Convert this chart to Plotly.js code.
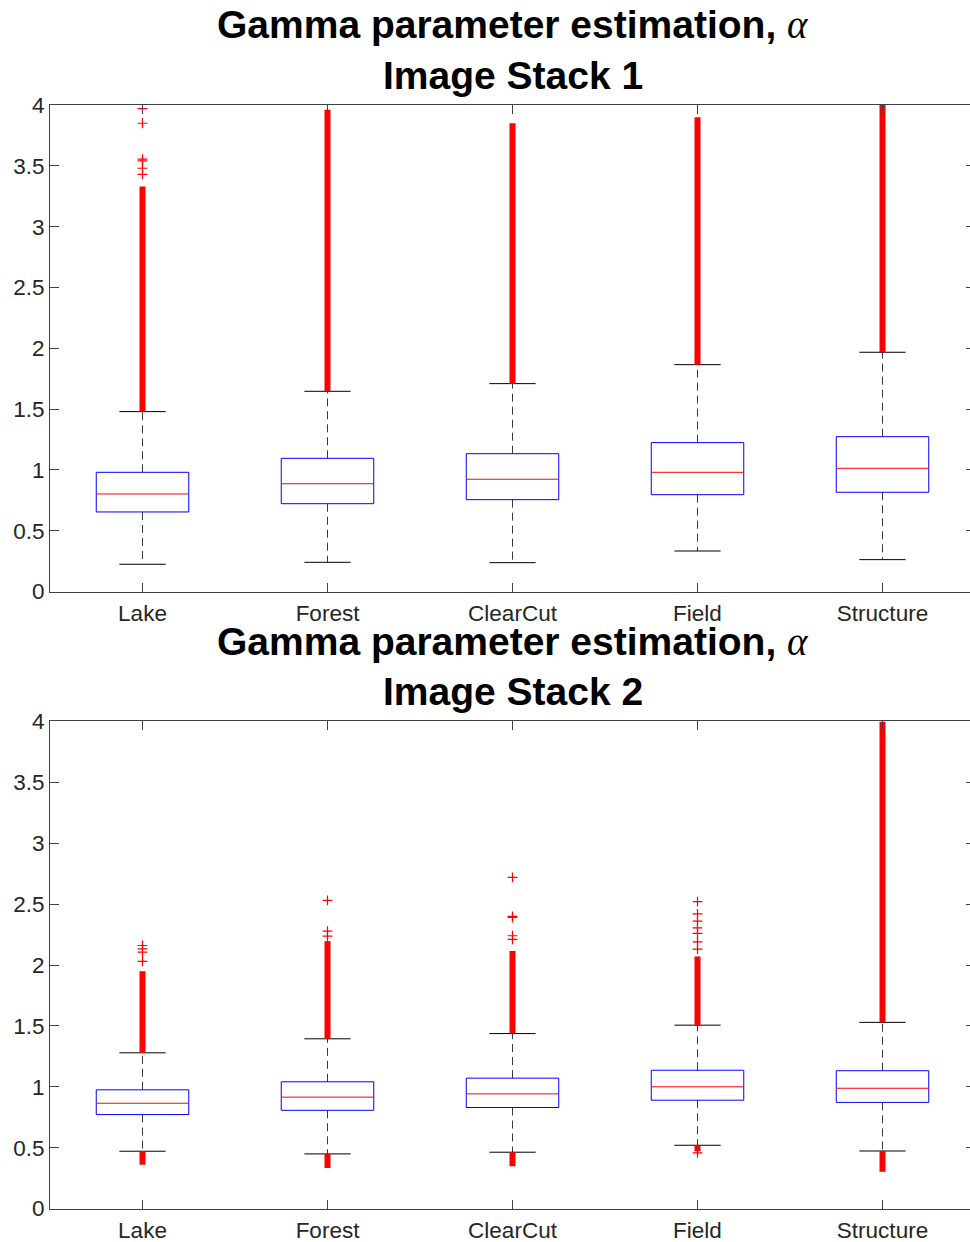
<!DOCTYPE html>
<html>
<head>
<meta charset="utf-8">
<script src="https://cdn.plot.ly/plotly-3.0.1.min.js"></script>
<style>
  html, body { margin: 0; padding: 0; overflow: hidden; background: #fff; }
  #chart { width: 975px; height: 1242px; }
</style>
</head>
<body>
<div id="chart"></div>
<script>
// Land-cover classes on the x axis
const categories = ['Lake', 'Forest', 'ClearCut', 'Field', 'Structure'];

// Image Stack 1: box statistics of the estimated shape parameter alpha
const stack1Q1     = [0.654, 0.722, 0.755, 0.796, 0.816];
const stack1Median = [0.802, 0.886, 0.923, 0.980, 1.013];
const stack1Q3     = [0.980, 1.095, 1.133, 1.224, 1.273];
const stack1Lower  = [0.224, 0.240, 0.237, 0.333, 0.262];
const stack1Upper  = [1.479, 1.646, 1.709, 1.865, 1.967];
// extent of the densely packed outliers above / below the whiskers (null = none)
const stack1DenseHigh = [3.33, 3.96, 3.85, 3.90, 4.00];
const stack1DenseLow  = [null, null, null, null, null];
// isolated outliers, one list per class
const stack1Sparse = [
  [3.43, 3.48, 3.54, 3.555, 3.85, 3.97],
  [],
  [],
  [],
  []
];

// Image Stack 2
const stack2Q1     = [0.772, 0.807, 0.830, 0.890, 0.872];
const stack2Median = [0.865, 0.915, 0.942, 1.000, 0.988];
const stack2Q3     = [0.975, 1.041, 1.071, 1.136, 1.132];
const stack2Lower  = [0.471, 0.449, 0.463, 0.520, 0.473];
const stack2Upper  = [1.279, 1.394, 1.437, 1.506, 1.529];
const stack2DenseHigh = [1.949, 2.196, 2.115, 2.070, 4.00];
const stack2DenseLow  = [0.361, 0.334, 0.348, 0.470, 0.303];
const stack2Sparse = [
  [2.03, 2.105, 2.133, 2.16],
  [2.237, 2.278, 2.53],
  [2.21, 2.24, 2.39, 2.40, 2.72],
  [2.13, 2.19, 2.26, 2.305, 2.36, 2.42, 2.52, 0.457],
  []
];

const BOX_HALF = 0.25;   // half width of each box, in category units
const CAP_HALF = 0.125;  // half width of the whisker caps

function stackTraces(s, xa, ya) {
  const box = {x: [], y: []}, med = {x: [], y: []}, whisk = {x: [], y: []},
        cap = {x: [], y: []}, band = {x: [], y: []}, pts = {x: [], y: []};
  const push = (o, xs, ys) => { o.x.push(...xs, null); o.y.push(...ys, null); };
  categories.forEach((c, i) => {
    const k = i + 1;
    push(box, [k - BOX_HALF, k + BOX_HALF, k + BOX_HALF, k - BOX_HALF, k - BOX_HALF],
              [s.q1[i], s.q1[i], s.q3[i], s.q3[i], s.q1[i]]);
    push(med, [k - BOX_HALF, k + BOX_HALF], [s.med[i], s.med[i]]);
    push(whisk, [k, k], [s.q3[i], s.hi[i]]);
    push(whisk, [k, k], [s.q1[i], s.lo[i]]);
    push(cap, [k - CAP_HALF, k + CAP_HALF], [s.hi[i], s.hi[i]]);
    push(cap, [k - CAP_HALF, k + CAP_HALF], [s.lo[i], s.lo[i]]);
    if (s.denseHigh[i] !== null) push(band, [k, k], [s.hi[i], s.denseHigh[i]]);
    if (s.denseLow[i] !== null) push(band, [k, k], [s.lo[i], s.denseLow[i]]);
    s.sparse[i].forEach(v => { pts.x.push(k); pts.y.push(v); });
  });
  const base = {xaxis: xa, yaxis: ya, showlegend: false, hoverinfo: 'skip', type: 'scatter'};
  return [
    Object.assign({}, base, whisk, {mode: 'lines', line: {color: '#3a3a3a', width: 1, dash: '8px,5px'}}),
    Object.assign({}, base, box, {mode: 'lines', line: {color: '#0000ff', width: 1}}),
    Object.assign({}, base, med, {mode: 'lines', line: {color: '#ff0000', width: 1}}),
    Object.assign({}, base, cap, {mode: 'lines', line: {color: '#000000', width: 1}}),
    Object.assign({}, base, band, {mode: 'lines', line: {color: '#ff0000', width: 6}}),
    Object.assign({}, base, pts, {mode: 'markers',
      marker: {symbol: 'cross-thin', size: 7, color: '#ff0000', line: {color: '#ff0000', width: 1.2}}})
  ];
}

const traces = [].concat(
  stackTraces({q1: stack1Q1, med: stack1Median, q3: stack1Q3, lo: stack1Lower, hi: stack1Upper,
               denseHigh: stack1DenseHigh, denseLow: stack1DenseLow, sparse: stack1Sparse}, 'x', 'y'),
  stackTraces({q1: stack2Q1, med: stack2Median, q3: stack2Q3, lo: stack2Lower, hi: stack2Upper,
               denseHigh: stack2DenseHigh, denseLow: stack2DenseLow, sparse: stack2Sparse}, 'x2', 'y2')
);

const H = 1242;
const py = p => 1 - p / H;   // pixel row -> paper fraction
const axisColor = '#404040';
const tickFont = {family: '"Liberation Sans", Arial, sans-serif', size: 22.5, color: '#262626'};

const xCommon = {
  range: [0.5, 5.5], tickvals: [1, 2, 3, 4, 5], ticktext: categories,
  ticks: 'inside', ticklen: 9, tickcolor: axisColor, tickwidth: 1,
  showline: true, linecolor: axisColor, linewidth: 1, mirror: 'ticks',
  showgrid: false, zeroline: false, tickfont: tickFont, fixedrange: true,
  ticklabelstandoff: 1
};
const yCommon = {
  range: [0, 4], tickvals: [0, 0.5, 1, 1.5, 2, 2.5, 3, 3.5, 4],
  ticks: 'inside', ticklen: 9, tickcolor: axisColor, tickwidth: 1,
  showline: true, linecolor: axisColor, linewidth: 1, mirror: 'ticks',
  showgrid: false, zeroline: false, tickfont: tickFont, fixedrange: true
};

const titleFont = {family: '"Liberation Sans", Arial, sans-serif', size: 39, color: '#000000'};
const alpha = '<span style="font-family:\'Liberation Serif\', serif;font-weight:normal"><i>α</i></span>';
function titleLine(text, pixelRow) {
  return {text: '<b>' + text + '</b>', xref: 'paper', yref: 'paper', x: 0.5, y: py(pixelRow),
          xanchor: 'center', yanchor: 'middle', showarrow: false, font: titleFont};
}

const layout = {
  width: 975, height: H,
  margin: {l: 50, r: 0, t: 0, b: 0},
  paper_bgcolor: '#ffffff', plot_bgcolor: '#ffffff',
  showlegend: false,
  xaxis: Object.assign({}, xCommon, {domain: [0, 1], anchor: 'y'}),
  yaxis: Object.assign({}, yCommon, {domain: [py(591.5), py(105)], anchor: 'x'}),
  xaxis2: Object.assign({}, xCommon, {domain: [0, 1], anchor: 'y2'}),
  yaxis2: Object.assign({}, yCommon, {domain: [py(1208.6), py(721.4)], anchor: 'x2'}),
  annotations: [
    titleLine('Gamma parameter estimation, ' + alpha, 25),
    titleLine('Image Stack 1', 75),
    titleLine('Gamma parameter estimation, ' + alpha, 641),
    titleLine('Image Stack 2', 691)
  ]
};

Plotly.newPlot('chart', traces, layout, {displayModeBar: false, staticPlot: true});
</script>
</body>
</html>
